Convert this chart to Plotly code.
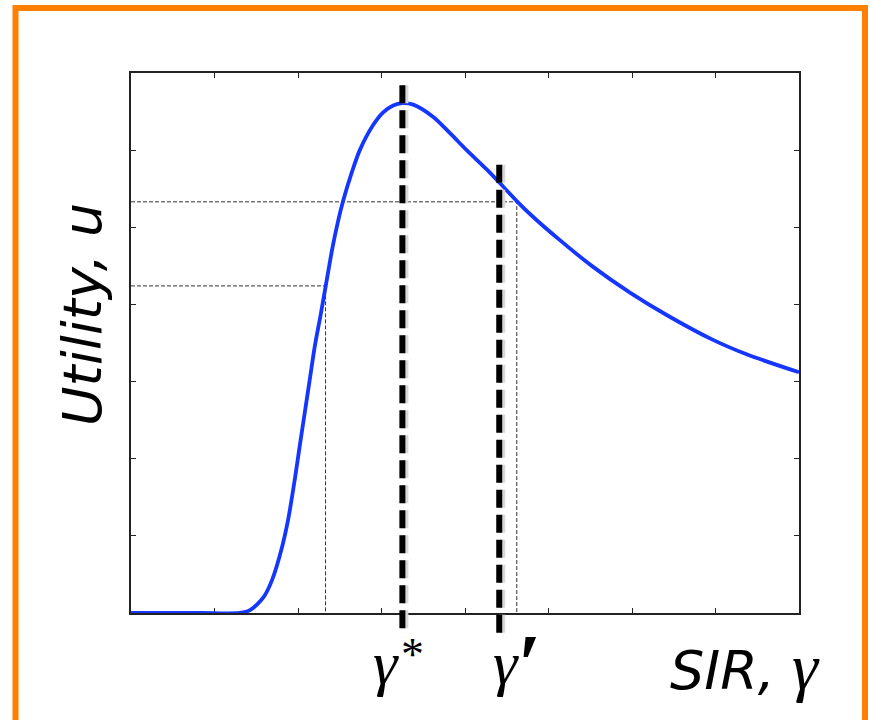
import plotly.graph_objects as go

# ---- data ----
sir = [0.0, 0.83, 1.30, 1.43, 1.59, 1.69, 1.81, 1.88, 1.96, 2.02, 2.08, 2.14, 2.20, 2.27,
       2.34, 2.41, 2.48, 2.54, 2.65, 2.74, 2.89, 3.02, 3.14, 3.25, 3.38, 3.62, 3.82, 4.02,
       4.26, 4.42, 4.62, 4.81, 5.14, 5.53, 5.98, 6.42, 6.97, 7.38, 8.0]
utility = [0.0, 0.0, 0.0, 0.04, 0.21, 0.43, 0.86, 1.20, 1.72, 2.16, 2.59, 3.02, 3.45, 3.86,
           4.29, 4.72, 5.08, 5.34, 5.73, 6.00, 6.31, 6.49, 6.58, 6.61, 6.59, 6.43, 6.22, 6.00,
           5.75, 5.57, 5.34, 5.14, 4.83, 4.49, 4.15, 3.86, 3.54, 3.35, 3.12]

gamma_star = 3.25
gamma_prime = 4.41
low_point = [2.33, 4.24]     # (SIR, utility) on the rising side
high_point = [4.62, 5.33]    # (SIR, utility) on the falling side
marker_top = [6.84, 5.81]    # top of the thick dashed markers (utility units)
marker_bottom = [-0.21, -0.29]

x_ticks = [0, 1, 2, 3, 4, 5, 6, 7, 8]
y_ticks = [0, 1, 2, 3, 4, 5, 6, 7]
x_range = [0, 8]
y_range = [0, 7]

# ---- figure ----
W, H = 871, 720
ML, MR, MT, MB = 131, 72, 73, 107
plot_w = W - ML - MR
plot_h = H - MT - MB

def py(px_from_top):
    """paper y for a pixel row measured from the top of the figure"""
    return (H - MB - px_from_top) / plot_h

def pxx(px_from_left):
    return (px_from_left - ML) / plot_w

fig = go.Figure()

thin = dict(color="#333333", width=1, dash="4px,2px")
fig.add_trace(go.Scatter(x=[x_range[0], low_point[0], low_point[0]],
                         y=[low_point[1], low_point[1], y_range[0]],
                         mode="lines", line=thin, hoverinfo="skip"))
fig.add_trace(go.Scatter(x=[x_range[0], high_point[0], high_point[0]],
                         y=[high_point[1], high_point[1], y_range[0]],
                         mode="lines", line=thin, hoverinfo="skip"))
fig.add_trace(go.Scatter(x=sir, y=utility, mode="lines",
                         line=dict(color="#1436ff", width=3.8, shape="spline", smoothing=0.8),
                         hoverinfo="skip"))

def to_paper(v):
    return (v - y_range[0]) / (y_range[1] - y_range[0])

shadow_dx = 3.0 * (x_range[1] - x_range[0]) / plot_w
for gx, top, bot in zip([gamma_star, gamma_prime], marker_top, marker_bottom):
    fig.add_shape(type="line", xref="x", yref="paper",
                  x0=gx + shadow_dx, x1=gx + shadow_dx, y0=to_paper(top), y1=to_paper(bot),
                  line=dict(color="#d8d8d8", width=6, dash="18px,7px"), layer="above")
    fig.add_shape(type="line", xref="x", yref="paper",
                  x0=gx, x1=gx, y0=to_paper(top), y1=to_paper(bot),
                  line=dict(color="black", width=6, dash="18px,7px"), layer="above")

# orange frame
fig.add_shape(type="rect", xref="paper", yref="paper",
              x0=pxx(15.5), x1=pxx(865), y0=py(724), y1=py(8),
              line=dict(color="#ff7f00", width=6), fillcolor="rgba(0,0,0,0)", layer="above")

sans = dict(family="DejaVu Sans", size=54, color="black")
serif = "Liberation Serif"
fig.add_annotation(text="<i>Utility, u</i>", textangle=-90, xref="paper", yref="paper",
                   x=pxx(82), y=py(315), xanchor="center", yanchor="middle",
                   showarrow=False, font=sans)
fig.add_annotation(text="<i>SIR, </i><span style='font-family:Liberation Serif;font-size:66px'><i>γ</i></span>",
                   xref="paper", yref="paper", x=pxx(745), y=py(666),
                   xanchor="center", yanchor="middle", showarrow=False, font=sans)

gfont = dict(family=serif, size=62, color="black")
fig.add_annotation(text="<i>γ</i>", xref="x", yref="paper", x=gamma_star, xshift=-16,
                   y=py(663), xanchor="center", yanchor="middle", showarrow=False, font=gfont)
fig.add_annotation(text="*", xref="x", yref="paper", x=gamma_star, xshift=10,
                   y=py(654), xanchor="center", yanchor="middle", showarrow=False,
                   font=dict(family=serif, size=46, color="black"))
fig.add_annotation(text="<i>γ</i>", xref="x", yref="paper", x=gamma_prime, xshift=7,
                   y=py(663), xanchor="center", yanchor="middle", showarrow=False, font=gfont)
fig.add_annotation(text="<b>′</b>", xref="x", yref="paper", x=gamma_prime, xshift=31,
                   y=py(664), xanchor="center", yanchor="middle", showarrow=False,
                   font=dict(family=serif, size=84, color="black"))

axis_common = dict(showgrid=False, zeroline=False, showticklabels=False,
                   ticks="inside", ticklen=5, tickwidth=1, tickcolor="#222",
                   showline=True, linecolor="#222", linewidth=1.5, mirror="ticks",
                   layer="below traces")
fig.update_xaxes(range=x_range, tickvals=x_ticks, **axis_common)
fig.update_yaxes(range=y_range, tickvals=y_ticks, **axis_common)

fig.update_layout(width=W, height=H, margin=dict(l=ML, r=MR, t=MT, b=MB),
                  paper_bgcolor="white", plot_bgcolor="white", showlegend=False)

fig.write_html("out.html", config={"displayModeBar": False},
               post_script="document.body.style.margin='0';")
